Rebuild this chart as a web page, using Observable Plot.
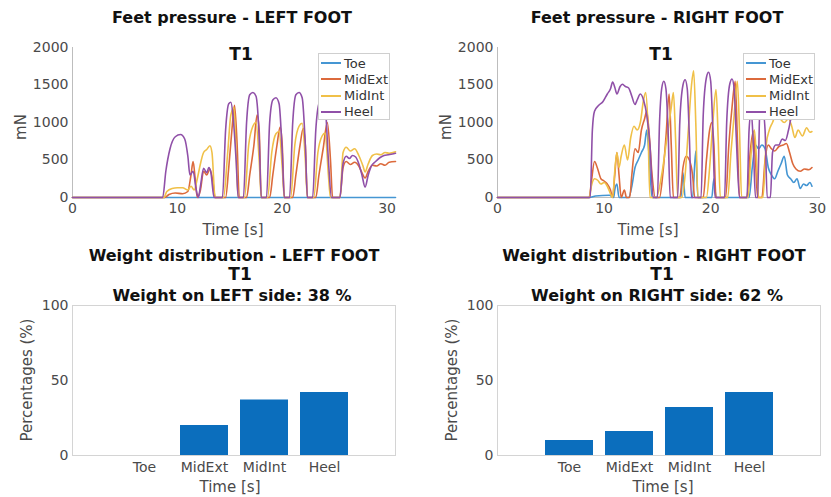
<!DOCTYPE html>
<html><head><meta charset="utf-8">
<script src="https://cdn.jsdelivr.net/npm/d3@7"></script>
<script src="https://cdn.jsdelivr.net/npm/@observablehq/plot@0.6"></script>
<style>
body{margin:0;background:#fff;font-family:"DejaVu Sans",sans-serif;}
#root{position:relative;width:831px;height:497px;overflow:hidden;background:#fff;}
.panel{position:absolute;}
.t{position:absolute;white-space:nowrap;transform:translate(-50%,-50%);color:#111;line-height:1;}
.title{font-weight:bold;font-size:16px;}
.big{font-weight:bold;font-size:17px;}
.lab{font-size:15px;color:#4a4a4a;}
.rot{transform:translate(-50%,-50%) rotate(-90deg);}
.legend{position:absolute;background:#fff;border:1px solid #cfcfcf;width:72px;height:67px;box-sizing:border-box;font-size:13px;color:#333;}
.row{position:absolute;left:2px;height:16px;display:flex;align-items:center;}
.sw{width:20px;height:2px;margin-right:3px;}
</style></head>
<body><div id="root"></div>
<script>
// ---- data ----
const partNames = ["Toe", "MidExt", "MidInt", "Heel"];
const partColors = ["#4596d3", "#dc6a3c", "#f0c048", "#9050a8"];
const pressureTicks = [0, 500, 1000, 1500, 2000];
const timeTicks = [0, 10, 20, 30];
const pctTicks = [0, 50, 100];

// LEFT FOOT pressure [time s, mN]
const leftToe = [[0,0],[30.8,0]];
const leftMidExt = [[0,0],[8.8,0],[9.2,40],[9.8,60],[10.5,50],[11.0,80],[11.3,300],[11.5,480],[11.7,250],[11.9,0],[12.2,100],[12.5,350],[12.8,300],[13.1,380],[13.4,200],[13.6,0],
  [14.6,0],[14.9,400],[15.2,900],[15.45,1230],[15.7,700],[15.9,0],
  [16.6,0],[16.9,300],[17.3,700],[17.6,1100],[17.8,900],[18.0,0],
  [18.8,0],[19.1,300],[19.5,700],[19.8,940],[20.0,700],[20.2,0],
  [21.0,0],[21.3,300],[21.7,700],[22.0,920],[22.2,700],[22.4,0],
  [23.2,0],[23.5,300],[23.9,650],[24.3,1000],[24.6,500],[24.8,0],
  [25.5,0],[25.8,400],[26.1,480],[26.5,440],[26.9,470],[27.3,420],[27.7,300],[27.9,260],[28.2,350],[28.6,430],[29.0,420],[29.4,450],[29.8,430],[30.2,470],[30.8,480]];
const leftMidInt = [[0,0],[8.7,0],[9.0,80],[9.5,120],[10.0,130],[10.5,130],[11.0,100],[11.3,150],[11.6,100],[11.9,250],[12.2,450],[12.5,600],[12.8,640],[13.1,690],[13.3,600],[13.6,0],
  [14.4,0],[14.8,600],[15.1,1100],[15.4,1200],[15.6,600],[15.8,0],
  [16.4,0],[16.8,700],[17.2,950],[17.5,1000],[17.8,500],[18.0,0],
  [18.6,0],[19.0,600],[19.4,850],[19.7,880],[20.0,400],[20.2,0],
  [20.8,0],[21.2,700],[21.6,950],[21.9,990],[22.2,500],[22.4,0],
  [23.0,0],[23.4,600],[23.8,820],[24.1,860],[24.4,300],[24.6,0],
  [25.5,0],[25.8,600],[26.1,670],[26.5,620],[26.9,650],[27.3,560],[27.7,420],[27.9,340],[28.2,450],[28.6,560],[29.0,580],[29.4,570],[29.8,600],[30.2,590],[30.8,610]];
const leftHeel = [[0,0],[8.6,0],[8.9,350],[9.3,650],[9.8,810],[10.3,840],[10.7,780],[11.0,550],[11.2,300],[11.5,350],[11.8,100],[12.0,0],[12.2,150],[12.5,390],[12.8,330],[13.0,400],[13.2,330],[13.5,0],
  [14.3,0],[14.6,900],[14.9,1250],[15.1,1270],[15.3,1100],[15.6,500],[15.8,0],
  [16.3,0],[16.6,1000],[16.9,1370],[17.2,1400],[17.5,1350],[17.8,800],[18.0,0],
  [18.5,0],[18.8,1000],[19.1,1300],[19.4,1330],[19.7,1250],[20.0,600],[20.2,0],
  [20.7,0],[21.0,1000],[21.3,1370],[21.6,1400],[21.9,1330],[22.2,700],[22.4,0],
  [22.9,0],[23.2,900],[23.5,1250],[23.8,1300],[24.1,1200],[24.4,500],[24.7,0],
  [25.5,0],[25.8,450],[26.1,550],[26.4,520],[26.7,560],[27.0,540],[27.3,450],[27.6,300],[27.9,140],[28.2,300],[28.5,420],[28.9,480],[29.3,530],[29.7,560],[30.1,570],[30.5,580],[30.8,590]];

// RIGHT FOOT pressure [time s, mN]
const rightToe = [[0,0],[8.6,0],[9.2,20],[10.5,30],[10.9,0],[11.0,100],[11.2,180],[11.4,0],[12.3,0],[12.6,150],[12.9,400],[13.2,500],[13.5,600],[13.8,700],[14.0,900],[14.2,600],[14.5,0],
  [17.2,0],[17.4,330],[17.6,0],[18.3,0],[18.6,620],[18.8,0],[20.1,0],[20.3,250],[20.5,0],
  [23.6,0],[23.9,400],[24.2,700],[24.5,650],[24.8,700],[25.1,650],[25.4,400],[25.7,300],[26.0,250],[26.3,350],[26.6,450],[26.9,550],[27.2,300],[27.5,250],[27.8,200],[28.1,250],[28.4,120],[28.7,180],[29.0,160],[29.3,200],[29.5,150]];
const rightMidExt = [[0,0],[8.6,0],[8.8,200],[9.1,480],[9.4,380],[9.7,250],[10.0,220],[10.3,180],[10.6,100],[10.8,0],[11.0,300],[11.2,600],[11.4,300],[11.6,0],[11.9,100],[12.1,0],[12.4,0],[12.6,300],[12.9,650],[13.2,600],[13.5,900],[13.8,1050],[14.0,1150],[14.2,900],[14.5,300],[14.8,0],
  [15.2,0],[15.5,300],[15.8,800],[16.1,1380],[16.3,700],[16.5,0],
  [17.1,0],[17.4,400],[17.7,550],[18.0,500],[18.3,300],[18.5,0],
  [19.3,0],[19.6,500],[19.9,900],[20.1,1000],[20.3,700],[20.5,0],
  [21.4,0],[21.7,700],[22.0,1200],[22.3,1550],[22.5,800],[22.7,0],
  [23.4,0],[23.7,600],[24.0,880],[24.2,500],[24.4,0],
  [24.8,0],[25.1,500],[25.4,700],[25.7,650],[26.0,620],[26.4,680],[26.8,700],[27.1,720],[27.4,600],[27.7,450],[28.0,380],[28.4,350],[28.8,380],[29.2,370],[29.5,400]];
const rightMidInt = [[0,0],[8.6,0],[8.8,150],[9.1,250],[9.4,230],[9.7,180],[10.0,200],[10.3,150],[10.6,50],[10.8,0],[11.0,350],[11.2,600],[11.4,400],[11.6,550],[11.9,700],[12.2,500],[12.5,800],[12.8,950],[13.1,900],[13.4,1000],[13.7,1300],[13.9,1400],[14.1,1000],[14.3,0],
  [14.9,0],[15.4,300],[15.9,800],[16.3,1200],[16.5,1400],[16.7,800],[16.9,0],
  [17.3,0],[17.6,300],[17.9,900],[18.2,1500],[18.4,1690],[18.6,1000],[18.8,0],
  [19.6,0],[19.9,400],[20.2,1000],[20.5,1440],[20.7,800],[20.9,0],
  [21.6,0],[21.9,600],[22.2,1100],[22.5,1550],[22.7,900],[22.9,0],
  [23.5,0],[23.8,600],[24.1,900],[24.3,500],[24.5,0],
  [24.9,0],[25.2,700],[25.5,900],[25.8,1000],[26.1,1100],[26.5,1050],[26.9,1000],[27.3,1050],[27.6,950],[27.9,800],[28.2,900],[28.6,820],[29.0,930],[29.3,870],[29.5,880]];
const rightHeel = [[0,0],[8.7,0],[8.9,900],[9.1,1150],[9.5,1230],[9.9,1280],[10.3,1380],[10.6,1450],[10.8,1540],[11.0,1470],[11.2,1380],[11.5,1480],[11.7,1510],[12.0,1480],[12.3,1460],[12.6,1350],[12.9,1240],[13.1,1300],[13.4,1380],[13.7,1300],[14.0,1100],[14.3,700],[14.6,0],
  [15.0,0],[15.2,1000],[15.4,1450],[15.6,1550],[15.8,1450],[16.0,900],[16.2,0],
  [16.9,0],[17.1,1000],[17.4,1500],[17.6,1570],[17.8,1450],[18.0,800],[18.2,0],
  [19.1,0],[19.3,1100],[19.6,1600],[19.8,1670],[20.0,1550],[20.2,900],[20.4,0],
  [21.3,0],[21.5,1000],[21.8,1520],[22.0,1580],[22.2,1450],[22.4,800],[22.7,0],
  [23.4,0],[23.6,900],[23.8,1150],[24.0,700],[24.2,0],[24.4,0],[24.6,1100],[24.9,1150],[25.1,900],[25.3,0],
  [25.6,0],[25.8,600],[26.1,700],[26.4,700],[26.7,780],[27.0,760],[27.3,900],[27.6,1100],[28.0,1200],[28.5,1250],[29.0,1200],[29.5,1230]];

// weight distribution (%)
const leftWeights = [0, 20, 37, 42];
const rightWeights = [10, 16, 32, 42];
const leftSide = 38, rightSide = 62;

// ---- drawing ----
const root = document.getElementById("root");
const baseStyle = {fontFamily: "DejaVu Sans, sans-serif", fontSize: "14px", color: "#4a4a4a", background: "transparent", overflow: "visible"};

function place(el, left, top) {
  const d = document.createElement("div");
  d.className = "panel"; d.style.left = left + "px"; d.style.top = top + "px";
  d.appendChild(el); root.appendChild(d);
}
function text(cls, str, x, y) {
  const d = document.createElement("div");
  d.className = "t " + cls; d.textContent = str;
  d.style.left = x + "px"; d.style.top = y + "px";
  root.appendChild(d);
}
function legend(left, top) {
  const lg = document.createElement("div");
  lg.className = "legend"; lg.style.left = left + "px"; lg.style.top = top + "px";
  partNames.forEach((n, i) => {
    const r = document.createElement("div");
    r.className = "row"; r.style.top = (1 + i * 16.3) + "px";
    const sw = document.createElement("div"); sw.className = "sw"; sw.style.background = partColors[i];
    const tx = document.createElement("span"); tx.textContent = n;
    r.appendChild(sw); r.appendChild(tx); lg.appendChild(r);
  });
  root.appendChild(lg);
}

function pressurePlot(series, width, xMax, ml, mr) {
  const marks = [
    Plot.ruleX([0], {stroke: "#bdbdbd"}),
    Plot.ruleY([0], {stroke: "#bdbdbd"})
  ];
  series.forEach((s, i) => marks.push(Plot.line(s, {x: d => d[0], y: d => d[1], stroke: partColors[i], strokeWidth: 1.6, curve: "monotone-x"})));
  marks.push(Plot.axisY({ticks: pressureTicks, tickSize: 0, tickPadding: 4, tickFormat: d => String(d), label: null}));
  marks.push(Plot.axisX({ticks: timeTicks, tickSize: 0, tickPadding: 6, tickFormat: d => String(d), label: null}));
  return Plot.plot({width, height: 240, marginLeft: ml, marginRight: mr, marginTop: 47, marginBottom: 43,
    x: {domain: [0, xMax]}, y: {domain: [0, 2000]}, style: baseStyle, marks});
}

function weightPlot(values, width, ml, mr) {
  const rows = partNames.map((k, i) => ({k, v: values[i]}));
  return Plot.plot({width, height: 257, marginLeft: ml, marginRight: mr, marginTop: 65, marginBottom: 42,
    x: {type: "band", domain: partNames, paddingInner: 0.2, paddingOuter: 0.79},
    y: {domain: [0, 100]}, style: baseStyle,
    marks: [
      Plot.frame({stroke: "#d4d4d4"}),
      Plot.barY(rows, {x: "k", y: "v", fill: "#0b6ebd"}),
      Plot.axisY({ticks: pctTicks, tickSize: 0, tickPadding: 4, label: null}),
      Plot.axisX({tickSize: 0, tickPadding: 7, label: null})
    ]});
}

place(pressurePlot([leftToe, leftMidExt, leftMidInt, leftHeel], 415, 30.8, 72, 20), 0, 0);
place(pressurePlot([rightToe, rightMidExt, rightMidInt, rightHeel], 416, 30.3, 82, 11), 415, 0);
place(weightPlot(leftWeights, 415, 72, 20), 0, 240);
place(weightPlot(rightWeights, 416, 82, 11), 415, 240);

legend(318, 53);
legend(743, 53);

text("title", "Feet pressure - LEFT FOOT", 232, 18);
text("title", "Feet pressure - RIGHT FOOT", 657, 18);
text("big", "T1", 241, 54);
text("big", "T1", 661, 54);
text("lab rot", "mN", 21, 127);
text("lab rot", "mN", 446, 127);
text("lab", "Time [s]", 233, 230);
text("lab", "Time [s]", 648, 230);

text("title", "Weight distribution - LEFT FOOT", 234, 256);
text("title", "Weight distribution - RIGHT FOOT", 654, 256);
text("big", "T1", 240, 274);
text("big", "T1", 662, 274);
text("title", "Weight on LEFT side: " + leftSide + " %", 232, 296);
text("title", "Weight on RIGHT side: " + rightSide + " %", 657, 296);
text("lab rot", "Percentages (%)", 27, 380);
text("lab rot", "Percentages (%)", 452, 380);
text("lab", "Time [s]", 230, 487);
text("lab", "Time [s]", 663, 487);
</script></body></html>
